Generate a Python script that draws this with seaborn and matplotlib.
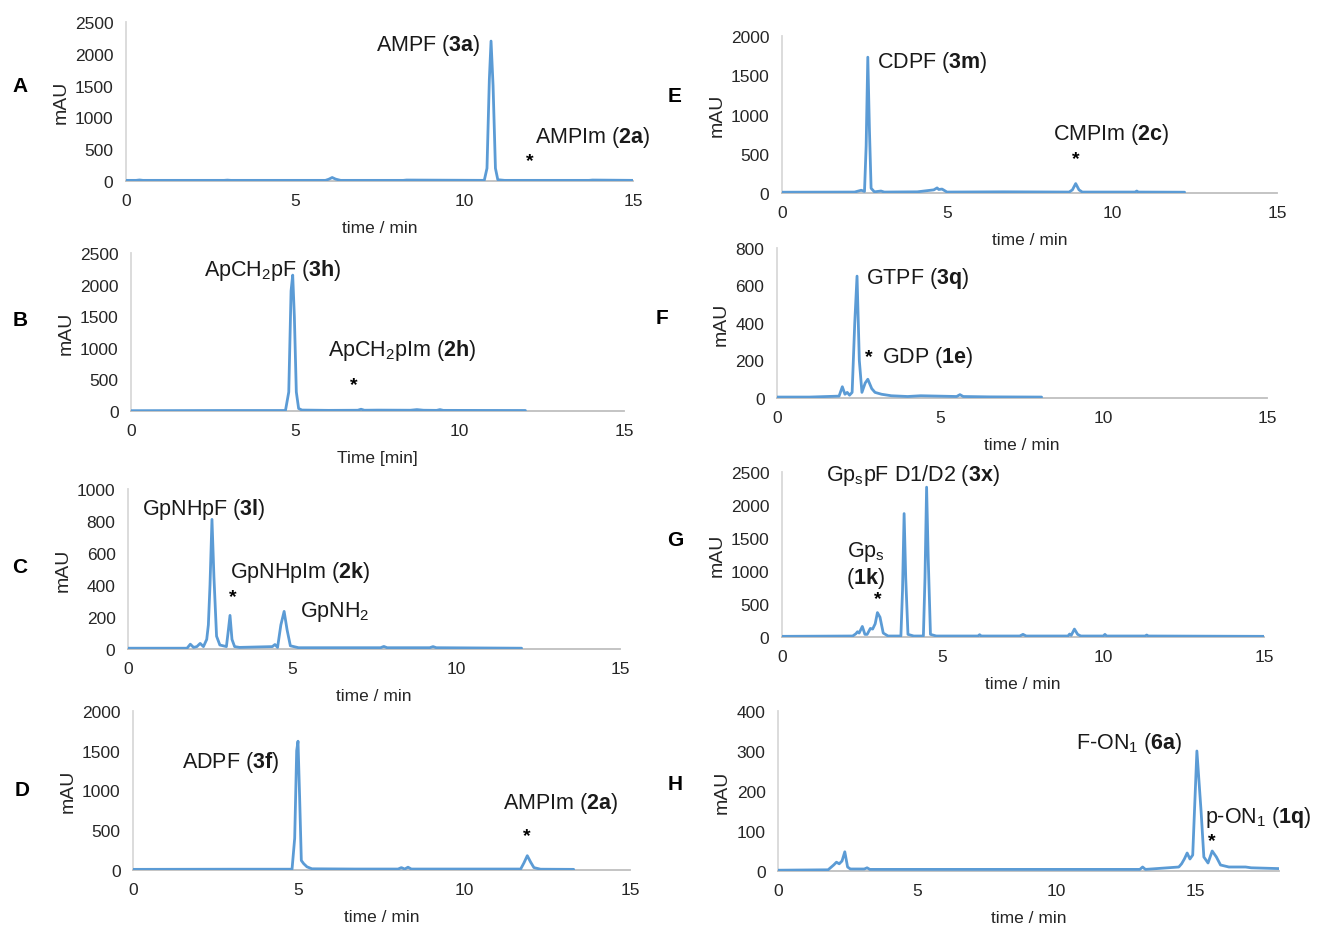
import matplotlib
matplotlib.use("Agg")
import matplotlib.pyplot as plt
import seaborn as sns

# ---------------- data ----------------
# Panel A
a_t = [0, 0.3, 0.4, 0.5, 2.9, 3.0, 3.1, 5.9, 6.0, 6.1, 6.2, 6.35, 8.2, 8.3, 10.6, 10.68, 10.75, 10.8, 10.86, 10.93, 11.0, 11.2, 13.7, 13.8, 15.0]
a_y = [10, 10, 16, 10, 10, 14, 10, 10, 28, 55, 30, 10, 10, 15, 10, 200, 1600, 2200, 1500, 200, 20, 10, 10, 15, 10]
# Panel B
b_t = [0, 3.0, 4.7, 4.8, 4.87, 4.92, 4.97, 5.03, 5.1, 5.2, 6.0, 6.9, 7.0, 7.1, 7.5, 8.5, 8.7, 8.9, 9.3, 9.4, 9.5, 12.0]
b_y = [5, 8, 8, 300, 1900, 2150, 1500, 300, 40, 15, 10, 12, 28, 12, 14, 12, 22, 12, 10, 22, 10, 8]
# Panel C
c_t = [0, 1.8, 1.9, 2.0, 2.1, 2.2, 2.3, 2.4, 2.45, 2.5, 2.56, 2.62, 2.7, 2.8, 3.0, 3.05, 3.11, 3.17, 3.25, 3.4, 3.8, 4.4, 4.48, 4.56, 4.66, 4.76, 4.85, 4.95, 5.2, 7.7, 7.8, 7.9, 9.2, 9.3, 9.4, 12.0]
c_y = [5, 5, 30, 10, 15, 35, 15, 60, 150, 400, 810, 450, 80, 25, 15, 100, 210, 60, 15, 10, 12, 15, 28, 10, 150, 235, 120, 20, 8, 8, 16, 8, 8, 15, 8, 5]
# Panel D
d_t = [0, 3.0, 4.8, 4.88, 4.94, 4.98, 5.03, 5.08, 5.15, 5.25, 5.4, 6.7, 8.0, 8.1, 8.2, 8.3, 8.4, 11.7, 11.8, 11.9, 12.0, 12.1, 12.3, 13.3]
d_y = [8, 10, 10, 400, 1500, 1620, 900, 120, 80, 40, 15, 12, 12, 30, 12, 35, 12, 12, 90, 180, 100, 30, 10, 8]
# Panel E
e_t = [0, 2.2, 2.4, 2.5, 2.55, 2.6, 2.65, 2.7, 2.8, 3.0, 3.1, 4.1, 4.6, 4.7, 4.75, 4.85, 5.0, 6.7, 8.7, 8.8, 8.9, 9.0, 9.1, 10.7, 10.75, 10.8, 12.2]
e_y = [10, 12, 35, 20, 600, 1730, 800, 60, 15, 25, 12, 15, 40, 65, 45, 50, 12, 15, 12, 40, 120, 40, 12, 12, 25, 12, 10]
# Panel F
f_t = [0, 1.0, 1.9, 2.0, 2.08, 2.15, 2.22, 2.3, 2.38, 2.45, 2.52, 2.6, 2.7, 2.78, 2.9, 3.0, 3.2, 3.5, 4.0, 4.4, 5.5, 5.6, 5.7, 6.5, 8.1]
f_y = [5, 5, 10, 60, 20, 30, 15, 30, 400, 650, 200, 30, 80, 100, 50, 30, 20, 12, 8, 12, 8, 18, 8, 6, 5]
# Panel G
g_t = [0, 2.2, 2.3, 2.35, 2.4, 2.5, 2.58, 2.65, 2.75, 2.82, 2.9, 2.97, 3.05, 3.15, 3.3, 3.7, 3.75, 3.8, 3.85, 3.92, 4.1, 4.4, 4.45, 4.5, 4.55, 4.62, 4.8,
       6.1, 6.15, 6.2, 7.4, 7.5, 7.6, 8.9, 8.95, 9.0, 9.1, 9.2, 9.3, 10.0, 10.05, 10.1, 11.3, 11.35, 11.4, 15.0]
g_y = [10, 15, 50, 80, 60, 160, 40, 40, 130, 120, 200, 370, 300, 60, 15, 15, 700, 1870, 900, 40, 15, 15, 900, 2270, 1200, 40, 15,
       15, 35, 15, 15, 40, 15, 15, 45, 25, 120, 40, 15, 15, 40, 15, 15, 30, 15, 10]
# Panel H
h_t = [0, 1.8, 2.0, 2.1, 2.2, 2.3, 2.4, 2.5, 2.6, 3.1, 3.2, 3.3, 10.0, 13.0, 13.1, 13.2, 13.6, 14.4, 14.5, 14.6, 14.7, 14.8, 14.9, 15.05, 15.2,
       15.3, 15.45, 15.6, 15.75, 15.9, 16.2, 16.8, 17.0, 18.0]
h_y = [2, 3, 15, 22, 18, 25, 48, 10, 5, 5, 8, 4, 4, 4, 10, 4, 6, 10, 18, 30, 45, 30, 40, 300, 150, 35, 20, 50, 35, 15, 10, 10, 8, 6]

panel_letters = ["A", "B", "C", "D", "E", "F", "G", "H"]
x_labels = ["time / min", "Time [min]", "time / min", "time / min", "time / min", "time / min", "time / min", "time / min"]
y_label = "mAU"
x_ticks = [0, 5, 10, 15]
y_maxes = [2500, 2500, 1000, 2000, 2000, 800, 2500, 400]
y_steps = [500, 500, 200, 500, 500, 200, 500, 100]
x_maxes = [15, 15, 15, 15, 15, 15, 15, 18]
traces = [(a_t, a_y), (b_t, b_y), (c_t, c_y), (d_t, d_y), (e_t, e_y), (f_t, f_y), (g_t, g_y), (h_t, h_y)]

# annotations: (text, t, y, ha)
annotations = [
    [("AMPF ($\\mathbf{3a}$)", 10.5, 2150, "right"), ("AMPIm ($\\mathbf{2a}$)", 13.8, 700, "center")],
    [("ApCH$_2$pF ($\\mathbf{3h}$)", 4.32, 2240, "center"), ("ApCH$_2$pIm ($\\mathbf{2h}$)", 8.24, 980, "center")],
    [("GpNHpF ($\\mathbf{3l}$)", 2.32, 880, "center"), ("GpNHpIm ($\\mathbf{2k}$)", 5.24, 487, "center"), ("GpNH$_2$", 6.31, 240, "center")],
    [("ADPF ($\\mathbf{3f}$)", 2.96, 1360, "center"), ("AMPIm ($\\mathbf{2a}$)", 12.92, 843, "center")],
    [("CDPF ($\\mathbf{3m}$)", 2.88, 1670, "left"), ("CMPIm ($\\mathbf{2c}$)", 9.97, 752, "center")],
    [("GTPF ($\\mathbf{3q}$)", 2.72, 640, "left"), ("GDP ($\\mathbf{1e}$)", 3.21, 219, "left")],
    [("Gp$_\\mathrm{s}$pF D1/D2 ($\\mathbf{3x}$)", 4.08, 2455, "center"), ("Gp$_\\mathrm{s}$", 2.61, 1303, "center"), ("($\\mathbf{1k}$)", 2.61, 894, "center")],
    [("F-ON$_1$ ($\\mathbf{6a}$)", 12.63, 320, "center"), ("p-ON$_1$ ($\\mathbf{1q}$)", 17.26, 137, "center")],
]
asterisks = [(11.95, 314), (6.78, 411), (3.2, 325), (11.89, 428), (8.9, 433), (2.82, 219), (2.99, 576), (15.57, 77)]

# ---------------- layout (pixels) ----------------
W, H = 1319, 929
# left, right, top, bottom of each plot area
boxes = [(126, 633, 23, 182), (131, 624, 254, 412), (128, 620, 490, 650), (133, 630, 712, 871),
         (782, 1277, 37, 194), (777, 1267, 249, 399), (782, 1264, 473, 638), (778, 1279, 712, 872)]
letter_pos = [(20, 86), (20, 321), (20, 568), (22, 791), (675, 97), (662, 318), (675, 540), (675, 785)]

sns.set_style("white")
plt.rcParams["font.family"] = ["Liberation Sans", "DejaVu Sans"]
plt.rcParams["mathtext.fontset"] = "custom"
plt.rcParams["mathtext.rm"] = "Liberation Sans"
plt.rcParams["mathtext.bf"] = "Liberation Sans:bold"
plt.rcParams["mathtext.it"] = "Liberation Sans:italic"

fig = plt.figure(figsize=(W / 100, H / 100), dpi=100)
fig.patch.set_facecolor("white")

line_color = "#5B9BD5"
text_color = "#262626"

for i in range(8):
    l, r, t, b = boxes[i]
    ax = fig.add_axes([l / W, 1 - b / H, (r - l) / W, (b - t) / H])
    ax.set_facecolor("white")
    tt, yy = traces[i]
    sns.lineplot(x=tt, y=yy, ax=ax, color=line_color, linewidth=2.0, zorder=3)
    ax.set_xlim(0, x_maxes[i])
    ax.set_ylim(0, y_maxes[i])
    ax.set_xticks(x_ticks)
    ax.set_yticks(list(range(0, y_maxes[i] + 1, y_steps[i])))
    ax.tick_params(axis="both", length=0, labelsize=12.5, labelcolor=text_color)
    ax.tick_params(axis="y", pad=9)
    ax.tick_params(axis="x", pad=9)
    for s in ["top", "right"]:
        ax.spines[s].set_visible(False)
    ax.spines["left"].set_color("#D9D9D9")
    ax.spines["left"].set_linewidth(1.3)
    ax.spines["bottom"].set_color("#BFBFBF")
    ax.spines["bottom"].set_linewidth(1.3)
    ax.set_xlabel(x_labels[i], fontsize=12.5, color=text_color, labelpad=8)
    ax.set_ylabel(y_label, fontsize=14, color=text_color, labelpad=4)
    for (txt, xt, yt, ha) in annotations[i]:
        ax.text(xt, yt, txt, fontsize=15.5, color="#1a1a1a", ha=ha, va="center", clip_on=False)
    ax_, ay_ = asterisks[i]
    ax.text(ax_, ay_, "*", fontsize=14, fontweight="bold", color="black", ha="center", va="center", clip_on=False)
    lx, ly = letter_pos[i]
    fig.text(lx / W, 1 - ly / H, panel_letters[i], fontsize=15, fontweight="bold", color="black", ha="center", va="center")

fig.savefig("out.png", dpi=100, facecolor="white")
